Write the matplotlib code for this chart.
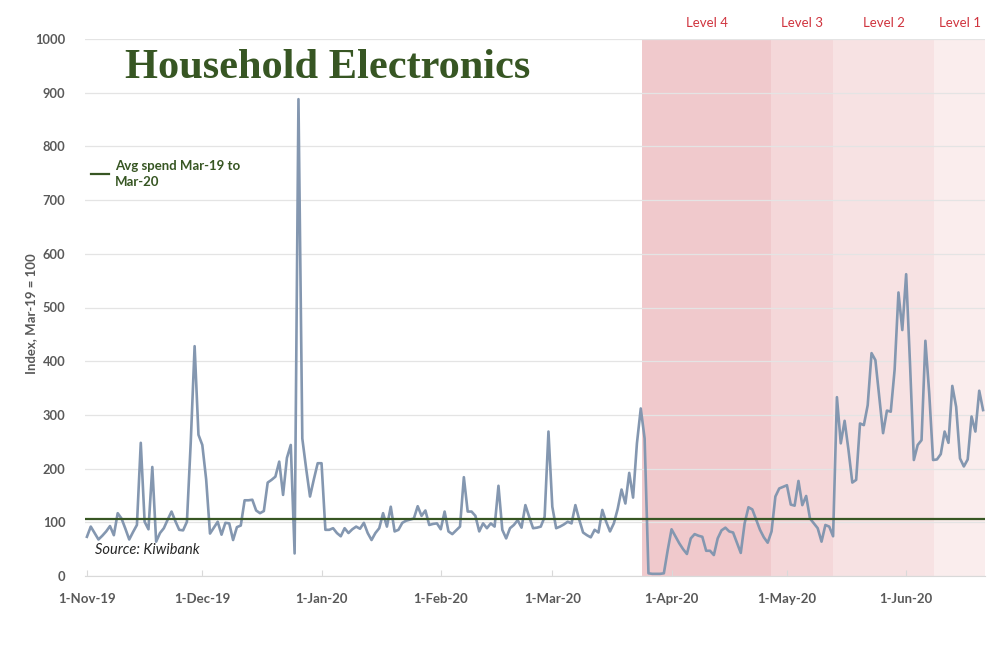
import pandas as pd
import matplotlib
matplotlib.use("Agg")
import matplotlib.pyplot as plt
import matplotlib.dates as mdates
from matplotlib.ticker import FuncFormatter

# daily spend index, 1-Nov-19 .. 21-Jun-20
nov = [73, 92, 80, 68, 75, 83, 93, 76, 117, 107,
       88, 68, 82, 95, 248, 101, 87, 203, 64, 80,
       89, 105, 120, 102, 86, 85, 101, 250, 428, 263]
dec = [244, 180, 79, 90, 101, 77, 99, 98, 67, 91,
       94, 141, 141, 142, 122, 117, 121, 174, 179, 185,
       213, 151, 220, 244, 42, 888, 256, 200, 148, 180, 210]
jan = [210, 86, 86, 89, 80, 74, 89, 80, 87, 92,
       88, 99, 80, 67, 80, 89, 117, 92, 129, 83,
       86, 99, 103, 105, 107, 130, 112, 122, 95, 97, 98]
feb = [87, 120, 83, 78, 85, 92, 184, 120, 120, 112,
       83, 98, 89, 98, 92, 168, 86, 70, 89, 95,
       104, 90, 132, 110, 89, 90, 92, 110, 269]
mar = [129, 89, 92, 96, 101, 98, 132, 105, 81, 76,
       72, 86, 81, 123, 101, 83, 98, 125, 161, 135,
       192, 146, 247, 312, 256, 5, 4, 4, 4, 5, 48]
apr = [87, 74, 61, 50, 41, 70, 78, 75, 73, 47,
       47, 39, 70, 85, 90, 83, 81, 62, 43, 98,
       128, 124, 105, 86, 72, 62, 83, 148, 163, 166]
may = [169, 133, 131, 177, 132, 149, 107, 98, 89, 64,
       95, 92, 74, 333, 247, 289, 235, 174, 179, 284,
       281, 318, 415, 402, 334, 266, 308, 306, 384, 528, 458]
jun = [562, 396, 216, 244, 253, 438, 340, 216, 217, 227,
       269, 248, 354, 315, 219, 204, 217, 297, 269, 345, 309]

values = nov + dec + jan + feb + mar + apr + may + jun
dates = pd.date_range("2019-11-01", periods=len(values), freq="D")
avg_spend = 107

levels = ["Level 4", "Level 3", "Level 2", "Level 1"]
level_edges = pd.to_datetime(["2020-03-24 07:00", "2020-04-26 22:00", "2020-05-13 00:00",
                              "2020-06-08 07:00", "2020-06-21 12:00"])
level_colors = ["#F0C9CC", "#F4D7D9", "#F7E2E3", "#FAEDED"]

plt.rcParams["font.family"] = ["Lato", "DejaVu Sans"]

fig = plt.figure(figsize=(10, 6.64), dpi=100)
ax = fig.add_axes([0.085, 1 - 576 / 664, 0.9, (576 - 39) / 664])

for i in range(len(levels)):
    ax.axvspan(level_edges[i], level_edges[i + 1], color=level_colors[i], lw=0, zorder=0)
    mid = level_edges[i] + (level_edges[i + 1] - level_edges[i]) / 2
    ax.text(mid, 1.03, levels[i], transform=ax.get_xaxis_transform(), ha="center",
            va="center", color="#D0343E", fontsize=9.5)

ax.plot(dates, values, color="#8497B0", lw=1.9, zorder=3)
ax.axhline(avg_spend, color="#375623", lw=1.6, zorder=4)

ax.set_ylim(0, 1000)
ax.set_yticks(range(0, 1001, 100))
ax.set_xlim(dates[0] - pd.Timedelta(hours=12), dates[-1] + pd.Timedelta(hours=12))
ax.grid(axis="y", color="#E4E4E4", lw=0.9, zorder=1)
ax.set_axisbelow(False)

ax.xaxis.set_major_locator(mdates.MonthLocator(bymonthday=1))
ax.xaxis.set_major_formatter(FuncFormatter(
    lambda v, pos: "{}-{}".format(mdates.num2date(v).day, mdates.num2date(v).strftime("%b-%y"))))

for s in ["top", "right", "left"]:
    ax.spines[s].set_visible(False)
ax.spines["bottom"].set_color("#D9D9D9")
ax.tick_params(axis="y", length=0, pad=14, labelsize=9.3, labelcolor="#595959")
ax.tick_params(axis="x", direction="in", length=4, color="#D9D9D9", pad=12,
               labelsize=9.5, labelcolor="#595959")
for lab in ax.get_xticklabels() + ax.get_yticklabels():
    lab.set_fontweight("bold")

ax.set_ylabel("Index, Mar-19 = 100", fontsize=9.5, fontweight="bold", color="#595959")
ax.yaxis.set_label_coords(-0.053, 0.488)

fig.text(0.125, 1 - 78 / 664, "Household Electronics", family="Liberation Serif",
         fontweight="bold", fontsize=30.5, color="#375623", va="baseline")

# legend entry for the average line
fig.lines.append(plt.Line2D([0.091, 0.109], [1 - 174 / 664] * 2, color="#375623", lw=1.6,
                            transform=fig.transFigure))
fig.text(0.115, 1 - 174 / 664, "Avg spend Mar-19 to\nMar-20", fontsize=9.5, fontweight="bold",
         color="#375623", va="center", linespacing=1.4)

fig.text(0.095, 1 - 550 / 664, "Source: Kiwibank", fontsize=10.5, style="italic",
         color="#262626", va="center")

fig.savefig("out.png", dpi=100, facecolor="white")
